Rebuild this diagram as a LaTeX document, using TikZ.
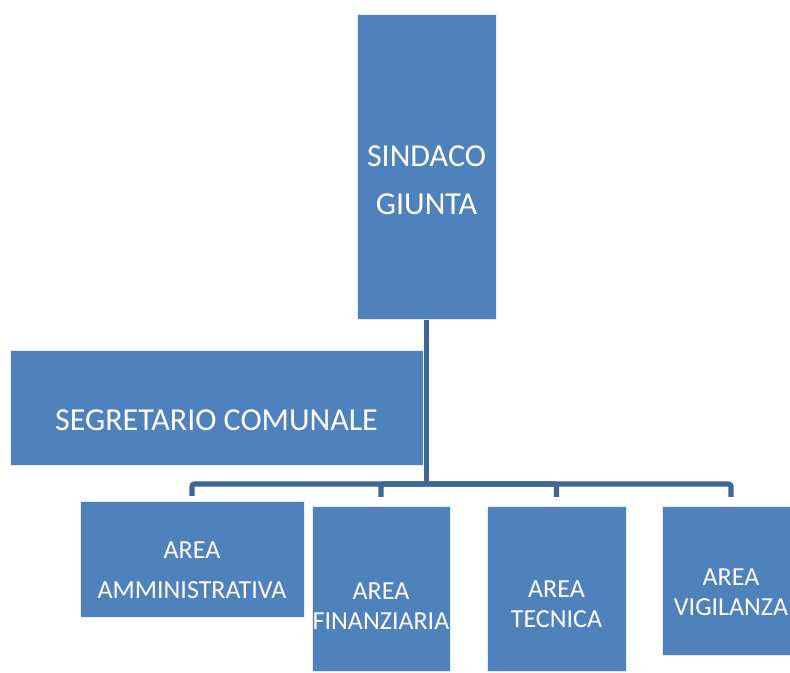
\documentclass[tikz,border=0pt]{standalone}
\usepackage{fontspec}
\setmainfont{Carlito}
\usepackage{tikz}
\usetikzlibrary{positioning, calc, backgrounds}
\definecolor{boxColor}{RGB}{79,129,189}
\definecolor{lineColor}{RGB}{62,102,152}
\tikzset{
    orgbox/.style={
        rectangle,
        draw=white!85!boxColor,
        line width=0.75pt,
        fill=boxColor,
        outer sep=0pt,
        inner sep=0pt
    },
    orgtext/.style={
        text=white,
        align=center,
        inner sep=0pt,
        font=\fontsize{19.5}{22.5}\selectfont
    },
    bigtext/.style={
        orgtext,
        font=\fontsize{24}{36}\selectfont
    },
    conn/.style={
        draw=lineColor,
        line width=4pt,
        rounded corners=2pt
    }
}

\begin{document}
\begin{tikzpicture}[x=0.75pt, y=-0.75pt]
    \clip (0,0) rectangle (790,673);

    \node[orgbox, minimum width=104.25pt, minimum height=228.75pt] (Sindaco) at (426.5,167.5) {};
    \node[orgbox, minimum width=309.75pt, minimum height=86.25pt] (Segretario) at (216.5,408.5) {};
    \node[orgbox, minimum width=168pt, minimum height=87pt] (Amm) at (192,560) {};
    \node[orgbox, minimum width=103.5pt, minimum height=123.75pt] (Fin) at (381,589.5) {};
    \node[orgbox, minimum width=104.25pt, minimum height=123.75pt] (Tec) at (556.5,589.5) {};
    \node[orgbox, minimum width=103.5pt, minimum height=111.75pt] (Vig) at (731,581.5) {};

    \node[bigtext] (SindacoTxt) at ([yshift=-9.5pt]Sindaco.center) {SINDACO\\GIUNTA};
    \node[bigtext] (SegretarioTxt) at ([yshift=-8.5pt]Segretario.center) {SEGRETARIO COMUNALE};
    \node[orgtext, font=\fontsize{19.5}{30}\selectfont] (AmmTxt) at ([yshift=-7.5pt]Amm.center) {AREA\\AMMINISTRATIVA};
    \node[orgtext] (FinTxt) at ([yshift=-12.4pt]Fin.center) {AREA\\FINANZIARIA};
    \node[orgtext] (TecTxt) at ([yshift=-11pt]Tec.center) {AREA\\TECNICA};
    \node[orgtext] (VigTxt) at ([yshift=-8pt]Vig.center) {AREA\\VIGILANZA};

    % collegamenti
    \begin{scope}[on background layer]
        \coordinate (Bus) at (426.5,484);
        \draw[conn] (Sindaco.south) -- (Bus);
        \draw[conn] ([yshift=4.5pt]Amm.north) |- (Bus) -| ([yshift=7.5pt]Vig.north);
        \draw[conn] (Bus) -| ([yshift=7.5pt]Fin.north);
        \draw[conn] (Bus) -| ([yshift=7.5pt]Tec.north);
    \end{scope}
\end{tikzpicture}
\end{document}
